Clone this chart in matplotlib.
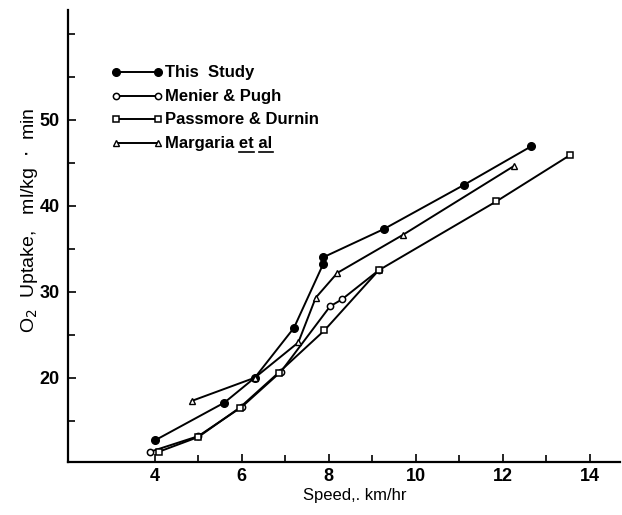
import matplotlib
matplotlib.use("Agg")
import matplotlib.pyplot as plt

plt.rcParams['font.family'] = ['Liberation Sans', 'DejaVu Sans']

# O2 uptake (ml/kg.min) against running speed (km/hr)
speed_this = [4.0, 5.6, 6.3, 7.2, 7.87, 7.87, 9.27, 11.1, 12.65]
o2_this = [12.7, 17.1, 20.0, 25.8, 33.2, 34.0, 37.3, 42.4, 46.9]

speed_menier = [3.9, 5.0, 6.0, 6.9, 8.03, 8.3, 9.15]
o2_menier = [11.4, 13.2, 16.6, 20.7, 28.3, 29.1, 32.5]

speed_passmore = [4.1, 5.0, 5.95, 6.85, 7.9, 9.15, 11.85, 13.55]
o2_passmore = [11.4, 13.1, 16.5, 20.6, 25.5, 32.5, 40.5, 45.9]

speed_margaria = [4.85, 6.3, 7.3, 7.7, 8.2, 9.7, 12.25]
o2_margaria = [17.3, 20.0, 24.1, 29.3, 32.2, 36.6, 44.6]

x_ticks = [4, 6, 8, 10, 12, 14]
y_ticks = [20, 30, 40, 50]

fig = plt.figure(figsize=(6.22, 5.15), dpi=100)
ax = fig.add_axes([0.109, 0.103, 0.888, 0.878])

lw = 1.4
ax.plot(speed_this, o2_this, color='black', lw=lw, marker='o', ms=5.5,
        mfc='black', mec='black', label='This  Study')
ax.plot(speed_menier, o2_menier, color='black', lw=lw, marker='o', ms=4.5,
        mfc='white', mec='black', mew=1.1, label='Menier & Pugh')
ax.plot(speed_passmore, o2_passmore, color='black', lw=lw, marker='s', ms=4.5,
        mfc='white', mec='black', mew=1.1, label='Passmore & Durnin')
ax.plot(speed_margaria, o2_margaria, color='black', lw=lw, marker='^', ms=4.5,
        mfc='white', mec='black', mew=1.0, label='Margaria et al')

ax.set_xlim(2.0, 14.7)
ax.set_ylim(10.2, 62.8)

ax.spines['top'].set_visible(False)
ax.spines['right'].set_visible(False)
ax.spines['left'].set_linewidth(1.6)
ax.spines['bottom'].set_linewidth(1.6)

ax.set_xticks(x_ticks)
ax.set_xticks([t for t in range(4, 15) if t not in x_ticks], minor=True)
ax.set_yticks(y_ticks)
ax.set_yticks([15, 25, 35, 45, 55, 60], minor=True)
ax.tick_params(axis='both', which='both', direction='in', width=1.2)
ax.tick_params(axis='both', which='major', length=6, labelsize=13)
ax.tick_params(axis='x', which='major', pad=4)
ax.tick_params(axis='y', which='major', pad=6)
ax.tick_params(axis='both', which='minor', length=5)
for lab in ax.get_xticklabels() + ax.get_yticklabels():
    lab.set_fontweight('bold')

ax.set_xlabel('Speed,. km/hr', fontsize=12)
ax.xaxis.set_label_coords(0.52, -0.058)
ax.set_ylabel('O$_2$  Uptake,   ml/kg  $\\cdot$  min', fontsize=14)
ax.yaxis.set_label_coords(-0.05, 0.535)

leg = ax.legend(loc='upper left', bbox_to_anchor=(0.07, 0.89), frameon=False,
                numpoints=2, handlelength=3.6, handletextpad=0.25,
                labelspacing=0.62, borderaxespad=0)
for t in leg.get_texts():
    t.set_fontweight('bold')
    t.set_fontsize(12)

# underline "et" and "al" in the Margaria entry
fig.canvas.draw()
renderer = fig.canvas.get_renderer()
marg = leg.get_texts()[3]
bb = marg.get_window_extent(renderer)
inv = fig.transFigure.inverted()
full = 'Margaria et al'
for word in ('et', 'al'):
    start = full.index(word)
    t_pre = fig.text(0, 0, full[:start], fontsize=12, fontweight='bold')
    t_word = fig.text(0, 0, full[:start + len(word)], fontsize=12, fontweight='bold')
    x0 = bb.x0 + t_pre.get_window_extent(renderer).width
    x1 = bb.x0 + t_word.get_window_extent(renderer).width
    t_pre.remove()
    t_word.remove()
    (fx0, fy), (fx1, _) = inv.transform([(x0, bb.y0 - 1), (x1, bb.y0 - 1)])
    fig.add_artist(plt.Line2D([fx0, fx1], [fy, fy], color='black', lw=1.2,
                              transform=fig.transFigure))

fig.savefig('out.png', dpi=100)
